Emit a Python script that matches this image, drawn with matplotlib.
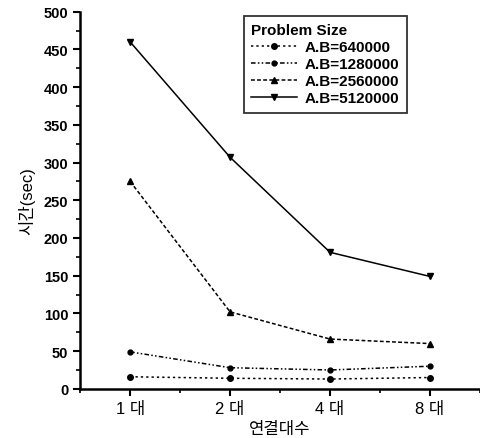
import matplotlib
matplotlib.use("Agg")
import matplotlib.pyplot as plt
from matplotlib.ticker import MultipleLocator

plt.rcParams['font.family'] = ['Liberation Sans', 'Noto Sans CJK KR', 'DejaVu Sans']

# 데이터
categories = ["1 대", "2 대", "4 대", "8 대"]
labels = ["A.B=640000", "A.B=1280000", "A.B=2560000", "A.B=5120000"]
t_640k = [16, 14, 13, 15]
t_1280k = [49, 28, 25, 30]
t_2560k = [275, 102, 66, 60]
t_5120k = [460, 307, 181, 149]

fig = plt.figure(figsize=(4.8, 4.39), dpi=100)
ax = fig.add_axes([0.167, 0.112, 0.833, 0.859])

x = range(len(categories))
ax.plot(x, t_640k, color='k', lw=1.1, ls=(0, (1.5, 2)), marker='o', ms=4, label=labels[0])
ax.plot(x, t_1280k, color='k', lw=1.1, ls=(0, (3, 1.5, 1, 1.5, 1, 1.5)), marker='o', ms=3.5, label=labels[1])
ax.plot(x, t_2560k, color='k', lw=1.1, ls=(0, (2.5, 1.5)), marker='^', ms=5, label=labels[2])
ax.plot(x, t_5120k, color='k', lw=1.1, ls='-', marker='v', ms=5, label=labels[3])

ax.set_xlim(-0.5, 3.5)
ax.set_ylim(0, 500)
ax.set_xticks(list(x))
ax.set_xticklabels(categories, fontsize=12)
ax.xaxis.set_minor_locator(MultipleLocator(0.5))
ax.yaxis.set_major_locator(MultipleLocator(50))
ax.yaxis.set_minor_locator(MultipleLocator(25))
for lab in ax.get_yticklabels():
    lab.set_fontweight('bold')
ax.tick_params(axis='y', labelsize=10.5)
ax.tick_params(which='major', direction='out', length=5, width=1.5)
ax.tick_params(which='minor', direction='out', length=3, width=1.2)

ax.spines['top'].set_visible(False)
ax.spines['right'].set_visible(False)
ax.spines['left'].set_linewidth(1.8)
ax.spines['bottom'].set_linewidth(1.8)

ax.set_xlabel("연결대수", fontsize=12, labelpad=4)
ax.set_ylabel("시간(sec)", fontsize=12, labelpad=6)

leg = ax.legend(title="Problem Size", loc='upper left', bbox_to_anchor=(0.39, 1.01),
                frameon=True, fancybox=False,
                edgecolor='k', handlelength=3.0, handletextpad=0.5,
                borderpad=0.5, labelspacing=0.2,
                prop={'weight': 'bold', 'size': 11})
leg.get_title().set_fontweight('bold')
leg.get_title().set_fontsize(11)
leg.get_frame().set_linewidth(1.3)
leg._legend_box.align = "left"

fig.savefig("out.png", dpi=100)
